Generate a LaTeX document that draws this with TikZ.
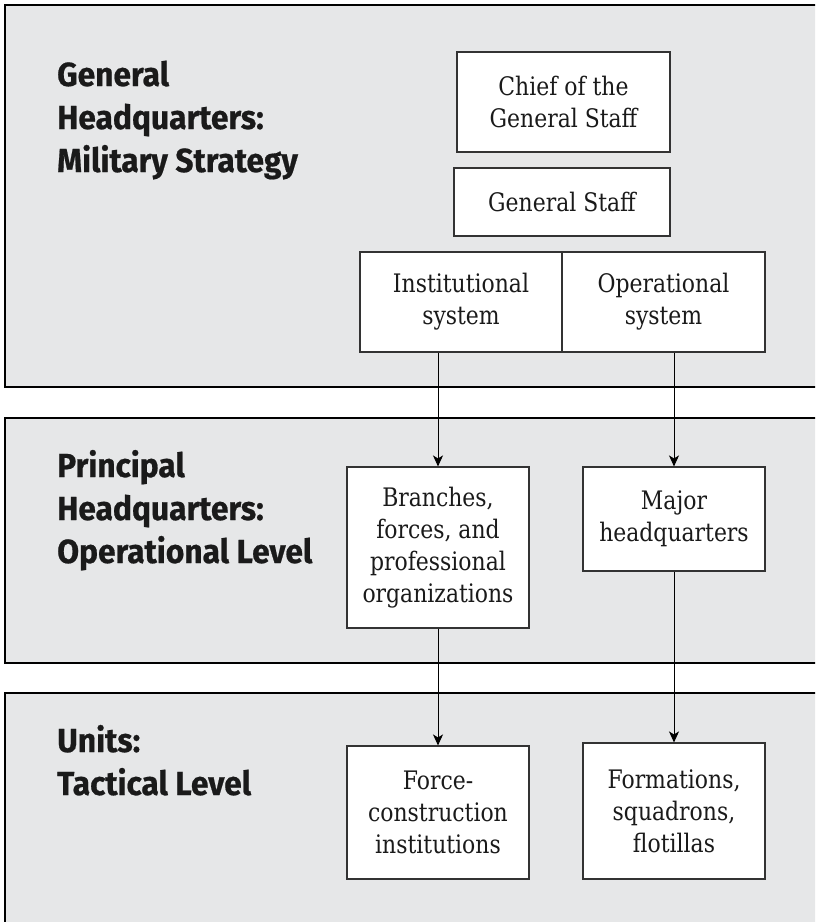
\documentclass[tikz,border=0pt]{standalone}
\usepackage{fontspec}
\usetikzlibrary{arrows.meta}
\setmainfont{DejaVu Serif}[FakeStretch=0.86]
\newfontfamily\lblfont{Fira Sans}[FakeStretch=0.95,FakeBold=0.6,UprightFont=* Bold]
\definecolor{panelgray}{HTML}{E6E7E8}
\definecolor{inkc}{HTML}{1A1A1A}
\definecolor{boxline}{HTML}{333333}
\tikzset{
  panel/.style={draw=black, line width=2.6pt, fill=panelgray},
  orgbox/.style={draw=boxline, line width=1.1pt, fill=white, inner sep=0pt, align=center,
     text=inkc, font=\fontsize{25.5}{32}\selectfont},
  lvl/.style={anchor=base west, inner sep=0pt, text=inkc},
  arr/.style={draw=black, line width=1pt, -{Stealth[length=11pt,width=10pt,inset=3pt]}}
}
\newcommand{\lvltext}[1]{\lblfont\fontsize{33.4}{43}\selectfont\renewcommand{\arraystretch}{1}\begin{tabular}[t]{@{}l@{}}#1\end{tabular}}
\begin{document}
\begin{tikzpicture}[x=1pt,y=-1pt]
\useasboundingbox (0,0) rectangle (815,922);
\clip (0,0) rectangle (815,922);
% panels
\path[panel] (5,5) rectangle (850,387);
\path[panel] (5,418) rectangle (850,663);
\path[panel] (5,693) rectangle (850,960);
% level labels
\node[lvl] (l1) at (57,86) {\lvltext{General\\Headquarters:\\Military Strategy}};
\node[lvl] (l2) at (57,477) {\lvltext{Principal\\Headquarters:\\Operational Level}};
\node[lvl] (l3) at (57,752) {\lvltext{Units:\\Tactical Level}};
% boxes
\node[orgbox, minimum width=213pt, minimum height=100pt] (chief) at (563.5,102) {Chief of the\\General Staff};
\node[orgbox, minimum width=216pt, minimum height=68pt] (gstaff) at (562,202) {General Staff};
\node[orgbox, minimum width=202pt, minimum height=100pt] (inst) at (461,302) {Institutional\\system};
\node[orgbox, minimum width=203pt, minimum height=100pt] (oper) at (663.5,302) {Operational\\system};
\node[orgbox, minimum width=182pt, minimum height=161pt] (branch) at (438,547.5) {Branches,\\forces, and\\professional\\organizations};
\node[orgbox, minimum width=182pt, minimum height=104pt] (major) at (674,519) {Major\\headquarters};
\node[orgbox, minimum width=182pt, minimum height=133pt] (force) at (438,812.5) {Force-\\construction\\institutions};
\node[orgbox, minimum width=182pt, minimum height=136pt] (form) at (674,811) {Formations,\\squadrons,\\flotillas};
% connectors
\draw[arr] (branch.north |- inst.south) -- (branch.north);
\draw[arr] (major.north |- oper.south) -- (major.north);
\draw[arr] (branch.south) -- (force.north);
\draw[arr] (major.south) -- (form.north);
\end{tikzpicture}
\end{document}
